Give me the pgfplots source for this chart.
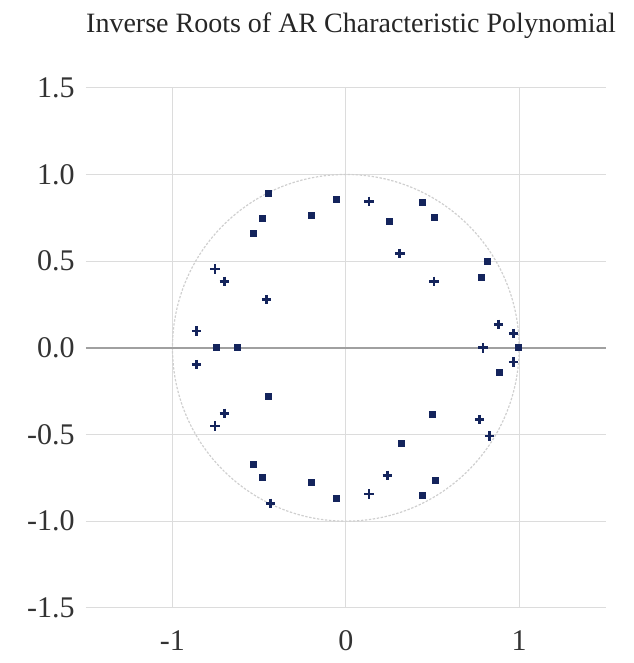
\documentclass[border=0pt]{standalone}
\usepackage{fontspec}
\setmainfont{Liberation Serif}
\usepackage{pgfplots}
\pgfplotsset{compat=1.18}
\definecolor{mk}{HTML}{14245C}
\definecolor{gridc}{HTML}{DCDCDC}
\definecolor{zeroc}{HTML}{A0A0A0}
\definecolor{circc}{HTML}{CFCFCF}
\begin{document}
\begin{tikzpicture}
\path[use as bounding box] (-42.9pt,-27.6pt) rectangle (273.6pt,303.9pt);
\begin{axis}[
  width=260pt, height=260pt, scale only axis,
  xmin=-1.5, xmax=1.5, ymin=-1.5, ymax=1.5,
  axis line style={draw=none},
  xtick={-1,0,1}, xticklabels={-1,0,1},
  ytick={-1.5,-1,-0.5,0,0.5,1,1.5},
  yticklabels={-1.5,-1.0,-0.5,0.0,0.5,1.0,1.5},
  grid=major,
  major grid style={gridc, line width=0.6pt},
  tick style={draw=none},
  ticklabel style={font=\fontsize{15}{16}\selectfont, text=black!80},
  xticklabel style={yshift=-8pt},
  yticklabel style={xshift=-2pt},
  clip=false,
]
\draw[circc, line width=0.6pt, dash pattern=on 1.2pt off 0.8pt] (axis cs:0,0) ellipse [x radius=1, y radius=1];
\draw[zeroc, line width=1pt] (axis cs:-1.5,0) -- (axis cs:1.5,0);
% square markers
\addplot[only marks, mark=square*, mark size=1.5pt, color=mk] coordinates {
(-0.446,0.889) (-0.054,0.854) (-0.48,0.746) (-0.198,0.766) (-0.534,0.658)
(-0.745,0.0) (-0.624,0.0) (0.25,0.729) (0.817,0.499) (0.997,0.0)
(-0.446,-0.283) (-0.534,-0.675) (-0.054,-0.869)
(0.319,-0.552) (0.517,-0.764) (0.444,-0.850)
(0.442,0.837) (0.513,0.754) (0.782,0.408) (0.888,-0.143) (0.50,-0.385)
(-0.48,-0.745) (-0.198,-0.779)
};
% plus markers
\addplot[only marks, mark=+, mark size=2.4pt, color=mk, mark options={line width=1.3pt}] coordinates {
(-0.755,0.454) (-0.70,0.383) (-0.457,0.278) (-0.861,0.097)
(0.134,0.844) (0.311,0.543) (0.509,0.383) (0.882,0.135) (0.968,0.082) (0.791,0.0)
(0.968,-0.082) (0.772,-0.414) (0.83,-0.508) (0.24,-0.737) (0.134,-0.843)
(-0.861,-0.097) (-0.70,-0.379) (-0.755,-0.452) (-0.434,-0.898)
};
\node[anchor=base, font=\fontsize{14}{16}\selectfont, text=black!85] at (axis cs:0.03,1.5) [yshift=27.5pt] {Inverse Roots of AR Characteristic Polynomial};
\end{axis}
\end{tikzpicture}
\end{document}
